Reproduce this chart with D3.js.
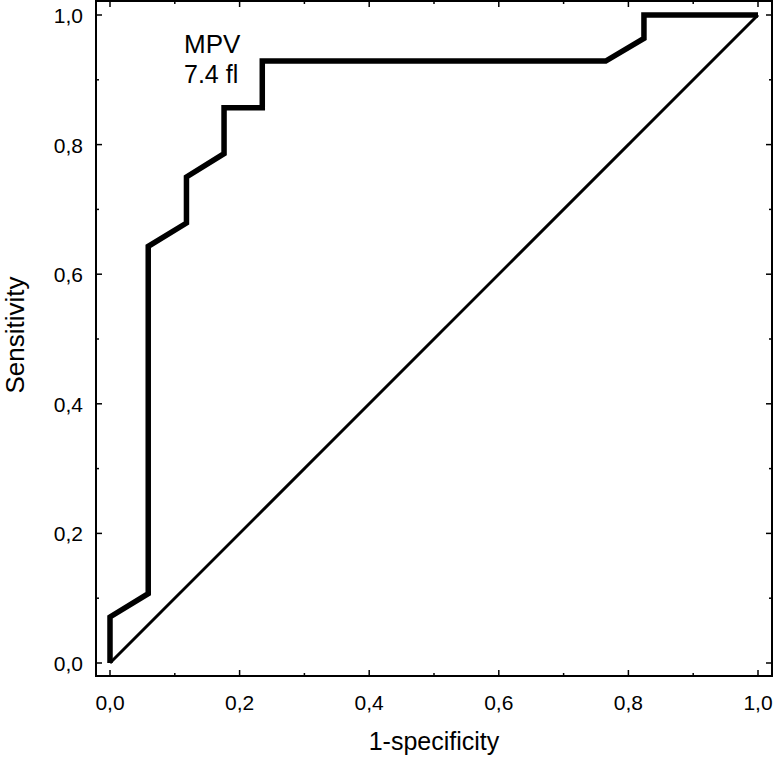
<!DOCTYPE html>
<html><head><meta charset="utf-8">
<script src="https://cdn.jsdelivr.net/npm/d3@7"></script>
<style>
html,body{margin:0;padding:0;background:#fff;}
svg{display:block;font-family:"Liberation Sans",Arial,sans-serif;}
</style></head>
<body>
<svg id="c" width="774" height="760"></svg>
<script>
// ROC curve data (1-specificity, sensitivity)
const fpr  = [0, 0, 0.059, 0.059, 0.118, 0.118, 0.176, 0.176, 0.235, 0.235, 0.765, 0.824, 0.824, 1.0];
const tpr  = [0, 0.071, 0.107, 0.643, 0.679, 0.750, 0.786, 0.857, 0.857, 0.929, 0.929, 0.964, 1.0, 1.0];
const refX = [0, 1];
const refY = [0, 1];
const majorTicks = [0, 0.2, 0.4, 0.6, 0.8, 1.0];
const minorTicks = [0.1, 0.3, 0.5, 0.7, 0.9];
const tickLabels = ["0,0","0,2","0,4","0,6","0,8","1,0"];
const xTitle = "1-specificity";
const yTitle = "Sensitivity";
const annotation = ["MPV", "7.4 fl"];

const svg = d3.select("#c");
const frame = {left: 96, right: 772, top: 1, bottom: 676};
const x = d3.scaleLinear().domain([0,1]).range([110, 758]);
const y = d3.scaleLinear().domain([0,1]).range([663, 15]);

// frame
svg.append("rect").attr("x", frame.left).attr("y", frame.top)
  .attr("width", frame.right - frame.left).attr("height", frame.bottom - frame.top)
  .attr("fill","none").attr("stroke","#000").attr("stroke-width",2);

// ticks (inward)
const g = svg.append("g").attr("stroke","#000").attr("stroke-width",1.5);
majorTicks.forEach(t => {
  g.append("line").attr("x1",x(t)).attr("x2",x(t)).attr("y1",frame.bottom).attr("y2",frame.bottom-6);
  g.append("line").attr("x1",x(t)).attr("x2",x(t)).attr("y1",frame.top).attr("y2",frame.top+6);
  g.append("line").attr("y1",y(t)).attr("y2",y(t)).attr("x1",frame.left).attr("x2",frame.left+6);
  g.append("line").attr("y1",y(t)).attr("y2",y(t)).attr("x1",frame.right).attr("x2",frame.right-6);
});
minorTicks.forEach(t => {
  g.append("line").attr("x1",x(t)).attr("x2",x(t)).attr("y1",frame.bottom).attr("y2",frame.bottom-3);
  g.append("line").attr("x1",x(t)).attr("x2",x(t)).attr("y1",frame.top).attr("y2",frame.top+3);
  g.append("line").attr("y1",y(t)).attr("y2",y(t)).attr("x1",frame.left).attr("x2",frame.left+3);
  g.append("line").attr("y1",y(t)).attr("y2",y(t)).attr("x1",frame.right).attr("x2",frame.right-3);
});

// tick labels
majorTicks.forEach((t,i) => {
  svg.append("text").attr("x",x(t)).attr("y",710).attr("text-anchor","middle")
    .attr("font-size",21).text(tickLabels[i]);
  svg.append("text").attr("x",83).attr("y",y(t)+8).attr("text-anchor","end")
    .attr("font-size",21).text(tickLabels[i]);
});

// axis titles
svg.append("text").attr("x",434).attr("y",750).attr("text-anchor","middle")
  .attr("font-size",25).text(xTitle);
svg.append("text").attr("transform","translate(24,335) rotate(-90)").attr("text-anchor","middle")
  .attr("font-size",26).text(yTitle);

// reference diagonal
const line = d3.line().x(d=>x(d[0])).y(d=>y(d[1]));
svg.append("path").datum(d3.zip(refX, refY)).attr("d", line)
  .attr("fill","none").attr("stroke","#000").attr("stroke-width",3);

// ROC curve
svg.append("path").datum(d3.zip(fpr, tpr)).attr("d", line)
  .attr("fill","none").attr("stroke","#000").attr("stroke-width",5.5)
  .attr("stroke-linejoin","miter");

// annotation
svg.append("text").attr("x",184).attr("y",53).attr("font-size",26).text(annotation[0]);
svg.append("text").attr("x",184).attr("y",83).attr("font-size",25).text(annotation[1]);
</script>
</body></html>
